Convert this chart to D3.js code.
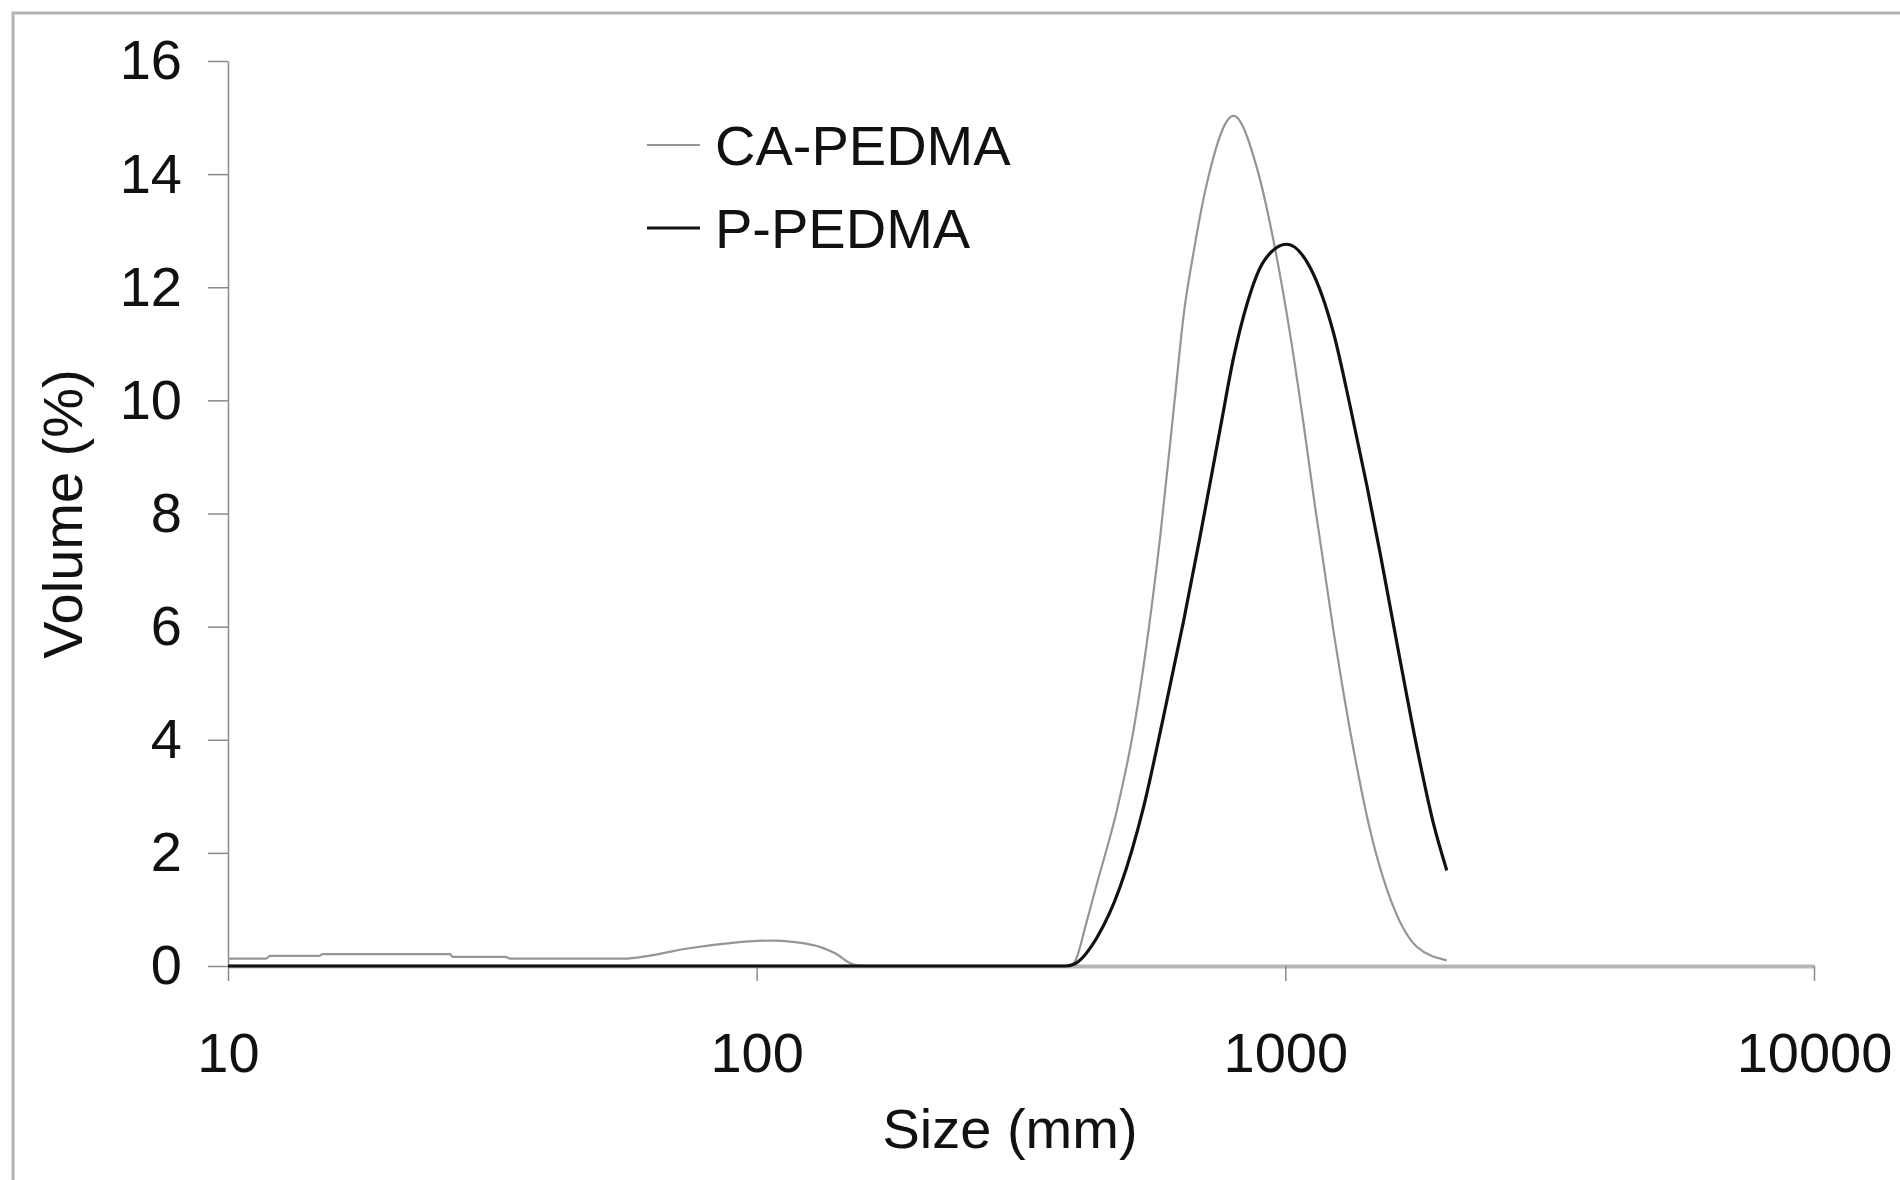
<!DOCTYPE html>
<html>
<head>
<meta charset="utf-8">
<script src="https://cdnjs.cloudflare.com/ajax/libs/d3/7.8.5/d3.min.js"></script>
<style>
    body { margin: 0; background: #fff; }
    text { font-family: "Liberation Sans", Arial, sans-serif; fill: #111; }
</style>
</head>
<body>
<div id="chart"></div>
<script>
// values (size in mm, volume in %)
const caSize = [10, 11.8, 12.0, 14.9, 15.1, 26.3, 26.6, 33.5, 34.2, 56, 62.5, 74, 90, 107, 128, 141, 152, 160,
    390, 400, 420, 440, 480, 516, 551, 580, 619, 642, 670, 710, 798, 883, 950, 1021, 1082, 1135, 1233, 1326, 1447, 1602, 1773, 2020];
const caVol = [0.13, 0.13, 0.18, 0.18, 0.21, 0.21, 0.16, 0.16, 0.13, 0.13, 0.18, 0.31, 0.41, 0.45, 0.37, 0.22, 0.03, 0,
    0, 0.08, 0.75, 1.45, 2.75, 4.16, 5.93, 7.6, 10.1, 11.5, 12.6, 13.82, 15.03, 14.12, 12.82, 11.17, 9.6, 8.2, 5.93, 4.16, 2.4, 1.04, 0.34, 0.1];

const pSize = [10, 385, 400, 440, 487, 539, 588, 642, 690, 753, 798, 846, 909, 1006, 1114, 1233, 1326, 1426, 1511, 1649, 1773, 1906, 2020];
const pVol = [0, 0, 0.04, 0.5, 1.4, 2.8, 4.4, 6.1, 7.6, 9.5, 10.75, 11.7, 12.45, 12.76, 12.35, 11.2, 9.9, 8.5, 7.3, 5.4, 3.87, 2.52, 1.69];

const xTicks = [10, 100, 1000, 10000];
const yTicks = [0, 2, 4, 6, 8, 10, 12, 14, 16];
const seriesNames = ['CA-PEDMA', 'P-PEDMA'];

class SizeDistChart {
    constructor() {
        this.WIDTH = 1900;
        this.HEIGHT = 1180;
        this.left = 228;
        this.right = 1814;
        this.top = 61;
        this.bottom = 966;

        let svg = d3.select('#chart').append('svg')
            .attr('width', this.WIDTH)
            .attr('height', this.HEIGHT);

        // picture frame
        svg.append('rect')
            .attr('x', 13).attr('y', 13)
            .attr('width', this.WIDTH).attr('height', this.HEIGHT)
            .attr('fill', 'none')
            .attr('stroke', '#b3b3b3')
            .attr('stroke-width', 3);

        let x = d3.scaleLog().domain([10, 10000]).range([this.left, this.right]);
        let y = d3.scaleLinear().domain([0, 16]).range([this.bottom, this.top]);

        let yAxis = svg.append('g')
            .attr('transform', `translate(${this.left},0)`)
            .call(d3.axisLeft(y).tickValues(yTicks).tickSize(20).tickSizeOuter(0).tickPadding(26));
        yAxis.select('.domain').attr('stroke', '#8a8a8a').attr('stroke-width', 1.5);
        yAxis.selectAll('.tick line').attr('stroke', '#8a8a8a').attr('stroke-width', 1.5);
        yAxis.selectAll('.tick text').style('font-size', '56px').attr('fill', '#111');

        let xAxis = svg.append('g')
            .attr('transform', `translate(0,${this.bottom})`)
            .call(d3.axisBottom(x).tickValues(xTicks).tickFormat(d3.format('d')).tickSize(15).tickSizeOuter(0).tickPadding(51));
        xAxis.select('.domain').attr('stroke', '#b5b5b5').attr('stroke-width', 4);
        xAxis.selectAll('.tick line').attr('stroke', '#8a8a8a').attr('stroke-width', 1.5);
        xAxis.selectAll('.tick text').style('font-size', '56px').attr('fill', '#111');

        svg.append('text')
            .attr('x', 1010).attr('y', 1148)
            .attr('text-anchor', 'middle')
            .style('font-size', '56px')
            .text('Size (mm)');

        svg.append('text')
            .attr('transform', 'translate(82,514) rotate(-90)')
            .attr('text-anchor', 'middle')
            .style('font-size', '56px')
            .text('Volume (%)');

        let series = [
            { name: seriesNames[0], sizes: caSize, vols: caVol, color: '#959595', width: 2.2 },
            { name: seriesNames[1], sizes: pSize, vols: pVol, color: '#111111', width: 3.2 }
        ];

        let line = d3.line()
            .x(d => x(d[0]))
            .y(d => y(d[1]))
            .curve(d3.curveMonotoneX);

        svg.selectAll('path.series')
            .data(series)
            .join('path')
            .attr('class', 'series')
            .attr('d', s => line(s.sizes.map((v, i) => [v, s.vols[i]])))
            .attr('fill', 'none')
            .attr('stroke', s => s.color)
            .attr('stroke-width', s => s.width)
            .attr('stroke-linejoin', 'round');

        // legend
        let legend = svg.selectAll('g.legend')
            .data(series)
            .join('g')
            .attr('class', 'legend')
            .attr('transform', (d, i) => `translate(647,${145 + i * 83})`);
        legend.append('line')
            .attr('x1', 0).attr('x2', 53)
            .attr('stroke', d => d.color)
            .attr('stroke-width', d => d.width);
        legend.append('text')
            .attr('x', 68).attr('y', 20)
            .style('font-size', '56px')
            .text(d => d.name);
    }
}

new SizeDistChart();
</script>
</body>
</html>
